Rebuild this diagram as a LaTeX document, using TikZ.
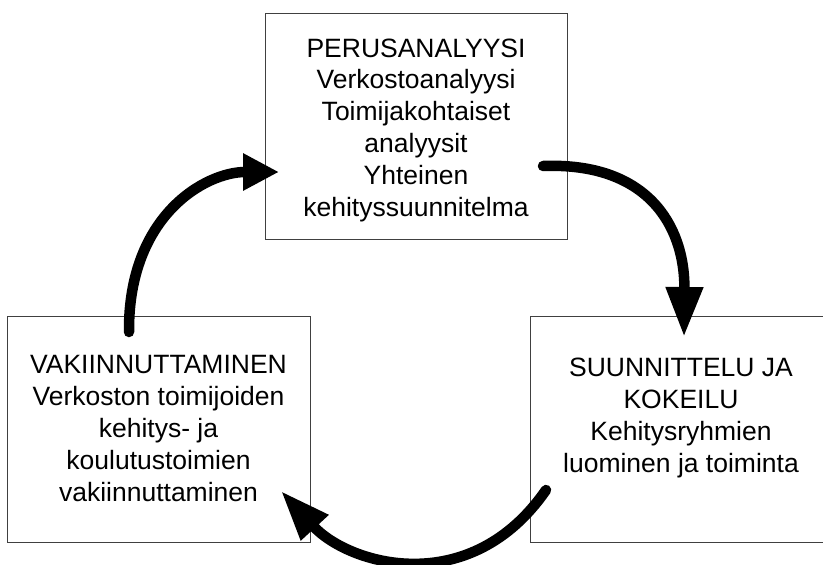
\documentclass[tikz,border=0pt]{standalone}
\usepackage{fontspec}
\setmainfont{Liberation Sans}
\usetikzlibrary{arrows.meta}
\tikzset{
  box/.style={draw=black!75, line width=1pt, fill=none},
  label/.style={align=center, font=\fontsize{26.5}{31.8}\selectfont, inner sep=0pt},
  bigarrow/.style={line width=10.5pt, line cap=round, black},
  headshort/.style={-{Triangle[length=36pt,width=35pt]}},
  headlong/.style={-{Triangle[length=50pt,width=35pt]}}
}
\begin{document}
\begin{tikzpicture}[x=1pt,y=-1pt]
\useasboundingbox (0,0) rectangle (823,565);
\clip (0,0) rectangle (823,565);
% boxes
\draw[box] (265,13) rectangle (567,239);
\draw[box] (7,316) rectangle (310,542);
\draw[box] (530,316) rectangle (840,542);
% texts
\node[label] (top) at (416,130) {PERUSANALYYSI\\Verkostoanalyysi\\Toimijakohtaiset\\analyysit\\Yhteinen\\kehityssuunnitelma};
\node[label] (left) at (158.5,428.5) {VAKIINNUTTAMINEN\\Verkoston toimijoiden\\kehitys- ja\\koulutustoimien\\vakiinnuttaminen};
\node[label] (right) at (681,418) {SUUNNITTELU JA\\KOKEILU\\Kehitysryhmien\\luominen ja toiminta};
% arrow end points
\coordinate (a1s) at (129,332);
\coordinate (a1e) at (279,172);
\coordinate (a2s) at (543,166);
\coordinate (a2e) at (684,337);
\coordinate (a3s) at (546,490);
\coordinate (a3e) at (281,491);
% arrows
\draw[bigarrow, headshort] (a1s) .. controls (128,215) and (206,172) .. (a1e);
\draw[bigarrow, headlong] (a2s) .. controls (646,162) and (685,224) .. (a2e);
\draw[bigarrow, headlong] (a3s) .. controls (470,600) and (349,565) .. (a3e);
\end{tikzpicture}
\end{document}
